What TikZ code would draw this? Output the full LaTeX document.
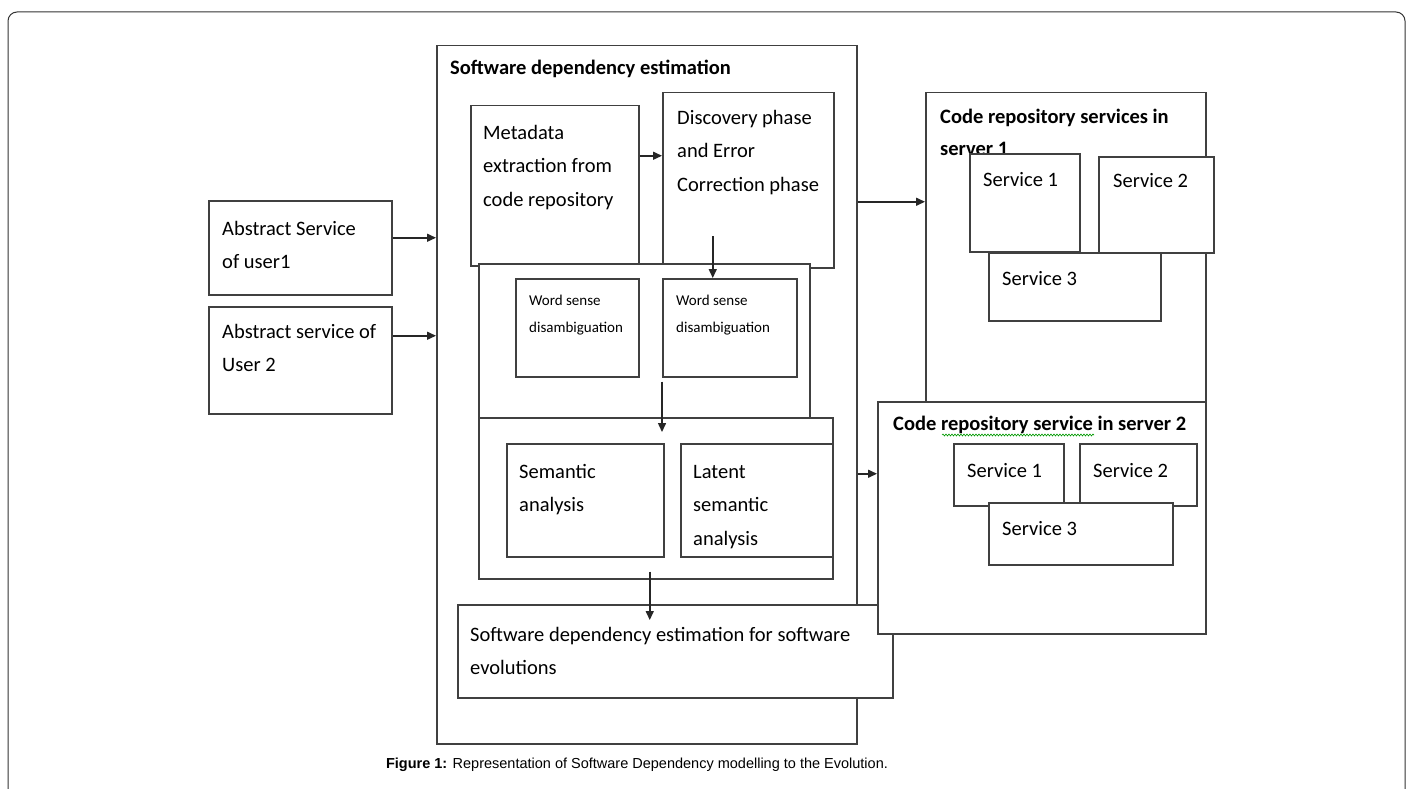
\documentclass[tikz,border=0pt]{standalone}
\usepackage{fontspec}
\setmainfont{Carlito}
\newfontfamily\capfont{Liberation Sans}
\usetikzlibrary{arrows.meta,decorations.pathmorphing}
\tikzset{
  blk/.style={draw=black!75, line width=1.5pt, fill=white, anchor=north west, inner sep=0pt},
  txt/.style={anchor=base west, align=left, inner sep=0pt, font=\fontsize{20.5}{33.5}\selectfont},
  small/.style={txt, font=\fontsize{15}{27}\selectfont},
  head/.style={txt, font=\fontsize{20.5}{32}\selectfont\bfseries},
  arr/.style={draw=black!85, line width=1.5pt, -{Triangle[length=9pt,width=8pt]}},
}
\begin{document}
\begin{tikzpicture}[x=1pt,y=-1pt]
\useasboundingbox (0,0) rectangle (1413,789);
\draw[black!80, line width=1pt, rounded corners=9pt] (8,789) -- (8,12) -- (1405,12) -- (1405,789);

% multi-line texts are placed at the baseline of their last line
\node[blk, minimum width=420, minimum height=698] (main) at (436,45) {};
\node[head] (mainT) at (450,75) {Software dependency estimation};
\node[blk, minimum width=168, minimum height=160] (meta) at (470,105) {};
\node[txt] (metaT) at (483,206) {Metadata\\extraction from\\code repository};
\node[blk, minimum width=171, minimum height=175] (disc) at (662,92) {};
\node[txt] (discT) at (677,191) {Discovery phase\\and Error\\Correction phase};

\node[blk, minimum width=331, minimum height=154] (wsdbox) at (478,263) {};
\node[blk, minimum width=123, minimum height=98] (wsd1) at (515,278) {};
\node[small] (wsd1T) at (529,332) {Word sense\\disambiguation};
\node[blk, minimum width=134, minimum height=98] (wsd2) at (662,278) {};
\node[small] (wsd2T) at (676,332) {Word sense\\disambiguation};

\node[blk, minimum width=354, minimum height=161] (sembox) at (478,417) {};
\node[blk, minimum width=157, minimum height=113] (sem) at (506,443) {};
\node[txt] (semT) at (519,511.5) {Semantic\\analysis};
\node[blk, minimum width=152, minimum height=113] (lat) at (680,443) {};
\node[txt] (latT) at (693,545) {Latent\\semantic\\analysis};

\node[blk, minimum width=435, minimum height=93] (evo) at (457,604) {};
\node[txt] (evoT) at (470,674.5) {Software dependency estimation for software\\evolutions};

\node[blk, minimum width=183, minimum height=94] (user1) at (208,200) {};
\node[txt] (user1T) at (222,268.5) {Abstract Service\\of user1};
\node[blk, minimum width=183, minimum height=107] (user2) at (208,306) {};
\node[txt] (user2T) at (222,371.5) {Abstract service of\\User 2};

\node[blk, minimum width=280, minimum height=309] (srv1) at (925,92) {};
\node[head] (srv1T) at (940,155) {Code repository services in\\server 1};
\node[blk, minimum width=110, minimum height=98] (s1a) at (969,153) {};
\node[txt] (s1aT) at (983,186) {Service 1};
\node[blk, minimum width=115, minimum height=96] (s1b) at (1098,156) {};
\node[txt] (s1bT) at (1113,187) {Service 2};
\node[blk, minimum width=172, minimum height=68] (s1c) at (988,252) {};
\node[txt] (s1cT) at (1002,285) {Service 3};

\node[blk, minimum width=328, minimum height=232] (srv2) at (877,401) {};
\node[head] (srv2T) at (893,430) {Code repository service in server 2};
\draw[green!60!black, line width=0.6pt, decorate, decoration={snake, amplitude=1pt, segment length=3pt}] (942,435) -- (1094,435);
\node[blk, minimum width=110, minimum height=62] (s2a) at (953,443) {};
\node[txt] (s2aT) at (967,477) {Service 1};
\node[blk, minimum width=117, minimum height=62] (s2b) at (1079,443) {};
\node[txt] (s2bT) at (1093,477) {Service 2};
\node[blk, minimum width=184, minimum height=62] (s2c) at (988,502) {};
\node[txt] (s2cT) at (1002,535) {Service 3};

\draw[arr] ([yshift=10pt]user1.east) -- ([yshift=10pt]user1.east -| main.west);
\draw[arr] ([yshift=24.5pt]user2.east) -- ([yshift=24.5pt]user2.east -| main.west);
\draw[arr] ([yshift=30pt]meta.east) -- ([yshift=30pt]meta.east -| disc.west);
\draw[arr] ([xshift=-17pt,yshift=42pt]wsd2.north) -- ([xshift=-17pt]wsd2.north);
\draw[arr] ([yshift=-4pt]wsd2.south west) -- ([yshift=-15pt]wsd2.south west |- sembox.north);
\draw[arr] ([xshift=-6pt,yshift=8pt]sembox.south) -- ([xshift=-6pt,yshift=-16pt]sembox.south |- evo.north);
\draw[arr] ([yshift=45.5pt]srv1.west -| main.east) -- ([yshift=45.5pt]srv1.west);
\draw[arr] ([yshift=44pt]srv2.west -| main.east) -- ([yshift=44pt]srv2.west);

\node[font=\capfont\fontsize{14.5}{16}\selectfont] (cap) at (637,765) {\textbf{Figure 1:} Representation of Software Dependency modelling to the Evolution.};
\end{tikzpicture}
\end{document}
